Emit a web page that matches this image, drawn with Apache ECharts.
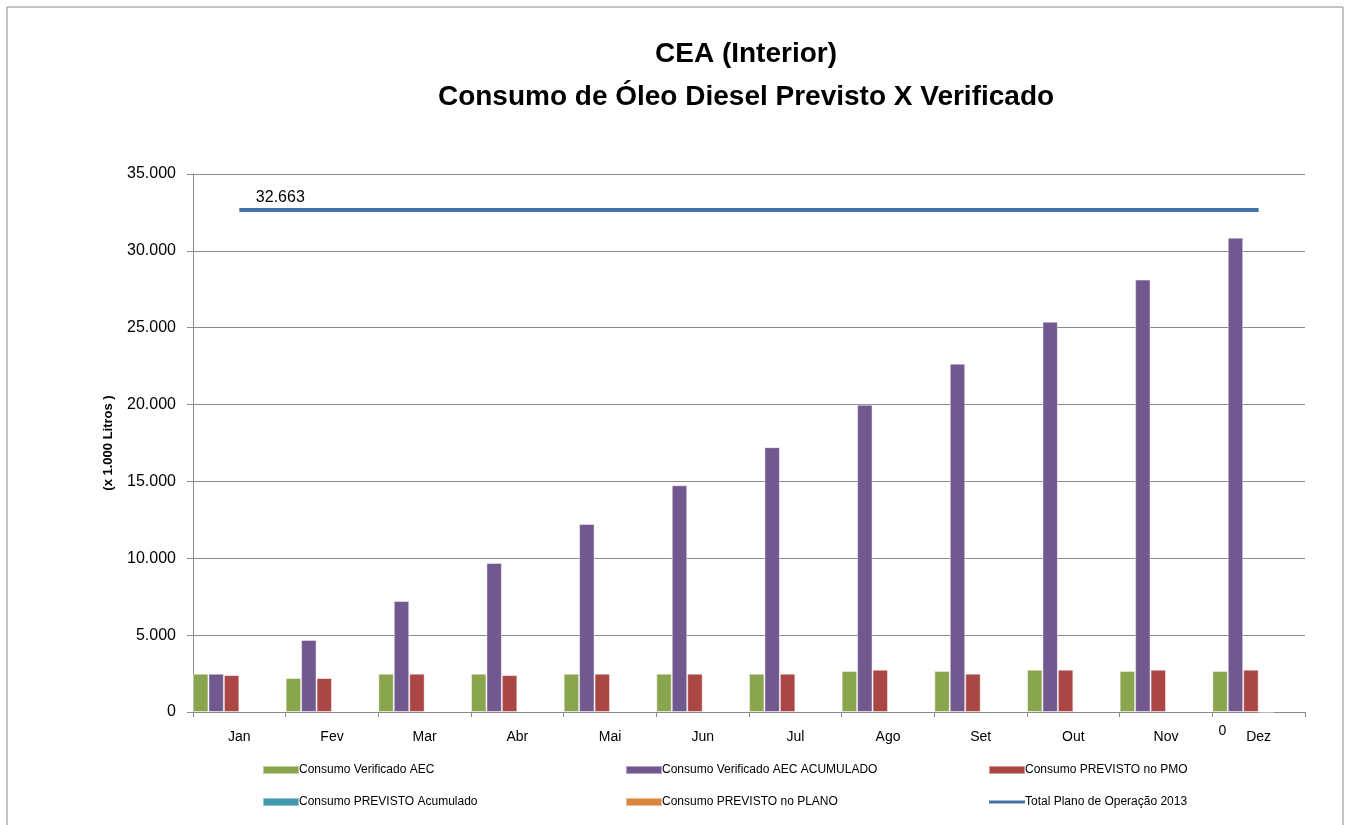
<!DOCTYPE html>
<html>
<head>
<meta charset="utf-8">
<script src="https://cdn.jsdelivr.net/npm/echarts@6/dist/echarts.min.js"></script>
<style>
html, body { margin: 0; padding: 0; background: #fff; }
#chart { width: 1349px; height: 825px; }
</style>
</head>
<body>
<div id="chart"></div>
<script>
// meses
var meses = ['Jan', 'Fev', 'Mar', 'Abr', 'Mai', 'Jun', 'Jul', 'Ago', 'Set', 'Out', 'Nov', 'Dez']
// valores em 1.000 litros
var verificadoAEC = [2490, 2210, 2490, 2490, 2490, 2490, 2490, 2670, 2670, 2750, 2670, 2670]
var verificadoAcum = [2490, 4690, 7220, 9690, 12230, 14750, 17230, 19990, 22660, 25390, 28130, 30860]
var previstoPMO = [2400, 2210, 2490, 2400, 2490, 2490, 2490, 2750, 2490, 2750, 2750, 2750]
var previstoAcum = ['-', '-', '-', '-', '-', '-', '-', '-', '-', '-', '-', 0]
var previstoPlano = ['-', '-', '-', '-', '-', '-', '-', '-', '-', '-', '-', '-']
var totalPlano = [32663, 32663, 32663, 32663, 32663, 32663, 32663, 32663, 32663, 32663, 32663, 32663]
var yTicks = { min: 0, max: 35000, interval: 5000 }

var fonte = "'Liberation Sans', Arial, sans-serif"
var chart = echarts.init(document.getElementById('chart'))

// formata com ponto de milhar
var fmt = function (v) {
    return String(v).replace(/\B(?=(\d{3})+(?!\d))/g, '.')
}

var barBase = {
    type: 'bar',
    barGap: 0,
    barCategoryGap: 0,
    itemStyle: { borderColor: 'rgba(255,255,255,0.45)', borderWidth: 1 },
}

var legendBase = {
    orient: 'vertical',
    itemWidth: 36,
    itemHeight: 8,
    itemGap: 20,
    top: 764,
    padding: 0,
    icon: 'rect',
    textStyle: { fontFamily: fonte, fontSize: 12, color: '#000', padding: [0, 0, 0, -5] },
}
// ícone de linha para a série do total
var iconeLinha = 'path://M0,0h36v3h-36z'

var option = {
    animation: false,
    backgroundColor: '#fff',
    textStyle: { fontFamily: fonte },
    title: {
        text: 'CEA (Interior)\nConsumo de Óleo Diesel Previsto X Verificado',
        left: 741,
        textAlign: 'center',
        top: 28,
        textStyle: { fontFamily: fonte, fontSize: 28, fontWeight: 'bold', color: '#000', lineHeight: 43 },
    },
    graphic: [
        {
            type: 'rect',
            shape: { x: 7, y: 7, width: 1336, height: 830 },
            style: { fill: 'none', stroke: '#8a8a8a', lineWidth: 1 },
            silent: true,
        },
    ],
    legend: [
        Object.assign({ left: 262, data: ['Consumo Verificado AEC', 'Consumo PREVISTO Acumulado'] }, legendBase),
        Object.assign({ left: 625, data: ['Consumo Verificado AEC ACUMULADO', 'Consumo PREVISTO no PLANO'] }, legendBase),
        Object.assign({ left: 988, data: ['Consumo PREVISTO no PMO', { name: 'Total Plano de Operação 2013', icon: iconeLinha }] }, legendBase),
    ],
    grid: { left: 193, right: 44, top: 174, bottom: 113 },
    xAxis: {
        type: 'category',
        data: meses,
        axisLine: { lineStyle: { color: '#8a8a8a' } },
        axisTick: { show: true, length: 5, lineStyle: { color: '#8a8a8a' } },
        axisLabel: { color: '#000', fontSize: 14, margin: 18 },
    },
    yAxis: {
        type: 'value',
        min: yTicks.min,
        max: yTicks.max,
        interval: yTicks.interval,
        name: '(x 1.000 Litros )',
        nameLocation: 'middle',
        nameGap: 78,
        nameRotate: 90,
        nameTextStyle: { color: '#000', fontSize: 13, fontWeight: 'bold' },
        axisLine: { show: true, lineStyle: { color: '#8a8a8a' } },
        axisTick: { show: true, length: 6, lineStyle: { color: '#8a8a8a' } },
        axisLabel: { color: '#000', fontSize: 16, margin: 17, formatter: fmt },
        splitLine: { lineStyle: { color: '#8a8a8a', width: 1 } },
    },
    series: [
        Object.assign({}, barBase, { name: 'Consumo Verificado AEC', data: verificadoAEC, color: '#89A54E' }),
        Object.assign({}, barBase, { name: 'Consumo Verificado AEC ACUMULADO', data: verificadoAcum, color: '#71588F' }),
        Object.assign({}, barBase, { name: 'Consumo PREVISTO no PMO', data: previstoPMO, color: '#AA4643' }),
        Object.assign({}, barBase, {
            name: 'Consumo PREVISTO Acumulado',
            data: previstoAcum,
            color: '#4198AF',
            label: {
                show: true,
                position: 'bottom',
                distance: 4,
                offset: [-44, 8],
                color: '#000',
                fontSize: 14,
            },
        }),
        Object.assign({}, barBase, { name: 'Consumo PREVISTO no PLANO', data: previstoPlano, color: '#DB843D' }),
        // série vazia, só ocupa o sexto espaço das barras como no original
        Object.assign({}, barBase, { name: 'vazio', data: [] }),
        {
            name: 'Total Plano de Operação 2013',
            type: 'line',
            data: totalPlano.map(function (v, i) {
                return i === 0 ? { value: v, label: { show: true } } : v
            }),
            color: '#4572A7',
            symbol: 'circle',
            symbolSize: 0.1,
            showSymbol: true,
            lineStyle: { width: 4, color: '#4572A7' },
            label: {
                show: false,
                position: 'top',
                distance: 4,
                offset: [41, 0],
                color: '#000',
                fontSize: 16,
                formatter: function (p) { return fmt(p.value) },
            },
        },
    ],
}
chart.setOption(option)
</script>
</body>
</html>
